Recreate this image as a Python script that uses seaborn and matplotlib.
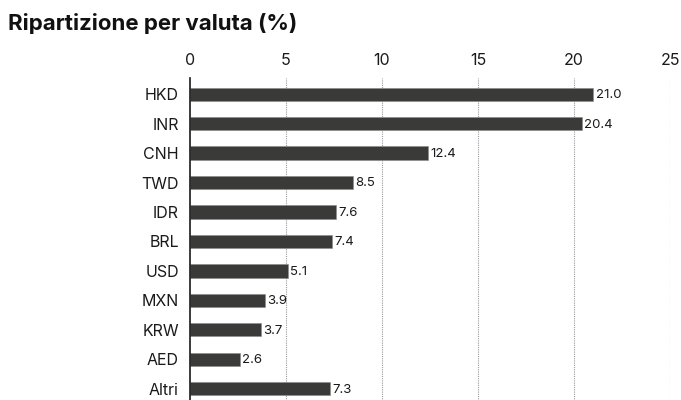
import matplotlib
matplotlib.use("Agg")
import matplotlib.pyplot as plt
import seaborn as sns
import pandas as pd

# Data
currencies = ["HKD", "INR", "CNH", "TWD", "IDR", "BRL", "USD", "MXN", "KRW", "AED", "Altri"]
weights = [21.0, 20.4, 12.4, 8.5, 7.6, 7.4, 5.1, 3.9, 3.7, 2.6, 7.3]
x_ticks = [0, 5, 10, 15, 20, 25]
title = "Ripartizione per valuta (%)"

df = pd.DataFrame({"valuta": currencies, "peso": weights})

sns.set_style("white")
plt.rcParams["font.family"] = ["Inter", "DejaVu Sans"]

fig = plt.figure(figsize=(6.81, 4.0), dpi=100)
ax = fig.add_axes([190 / 681, -0.005, 480 / 681, 0.81])

sns.barplot(data=df, x="peso", y="valuta", color="#3a3a38", width=0.45,
            edgecolor="#8a8a88", linewidth=0.4, saturation=1, ax=ax)

for i, v in enumerate(weights):
    ax.text(v + 0.12, i + 0.03, f"{v:.1f}", va="center", ha="left", fontsize=9.5, color="#1a1a1a")

ax.set_xlim(0, 25)
ax.set_ylim(10.45, -0.55)
ax.set_xticks(x_ticks)
ax.xaxis.tick_top()
ax.tick_params(axis="x", length=0, labelsize=11.5, pad=7, colors="#1a1a1a")
ax.tick_params(axis="y", length=0, labelsize=11.5, pad=8, colors="#1a1a1a")
ax.set_xlabel("")
ax.set_ylabel("")

for x in x_ticks[1:]:
    ax.axvline(x, color="#9a9a9a", linestyle=(0, (1, 1)), linewidth=0.8, zorder=0)

for s in ["top", "right", "bottom"]:
    ax.spines[s].set_visible(False)
ax.spines["left"].set_color("#1a1a1a")
ax.spines["left"].set_linewidth(1.2)

fig.text(8 / 681, 1 - 23 / 400, title, fontsize=16, fontweight="bold", va="center", ha="left", color="#111111")

fig.savefig("out.png", dpi=100)
